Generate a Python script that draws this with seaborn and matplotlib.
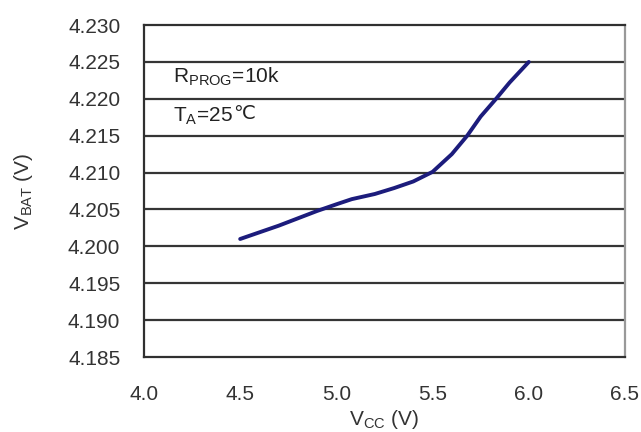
import pandas as pd
import matplotlib.pyplot as plt
import seaborn as sns

# V_CC (V) vs V_BAT (V)
vcc = [4.5, 4.7, 4.9, 5.0, 5.08, 5.2, 5.3, 5.4, 5.5, 5.6, 5.68, 5.75, 5.83, 5.9, 6.0]
vbat = [4.2010, 4.2028, 4.2048, 4.2057, 4.2064, 4.2071, 4.2079, 4.2088, 4.2101,
        4.2125, 4.2150, 4.2176, 4.2200, 4.2222, 4.2250]
x_ticks = [4.0, 4.5, 5.0, 5.5, 6.0, 6.5]
y_ticks = [4.185, 4.190, 4.195, 4.200, 4.205, 4.210, 4.215, 4.220, 4.225, 4.230]

sns.set_theme(style="white")
plt.rcParams['font.family'] = ['Liberation Sans', 'DejaVu Sans']
plt.rcParams['mathtext.fontset'] = 'custom'
plt.rcParams['mathtext.rm'] = 'Liberation Sans'

df = pd.DataFrame({'vcc': vcc, 'vbat': vbat})

fig = plt.figure(figsize=(6.41, 4.32), dpi=100)
ax = fig.add_axes([0.2246, 0.1736, 0.7504, 0.7684])

for y in y_ticks[1:-1]:
    ax.axhline(y, color='#353535', lw=1.6, zorder=1)

sns.lineplot(data=df, x='vcc', y='vbat', ax=ax, color='#1c1c7c', lw=2.8, zorder=3)

ax.set_xlim(4.0, 6.5)
ax.set_ylim(4.185, 4.230)
ax.set_xticks(x_ticks)
ax.set_xticklabels([f'{v:.1f}' for v in x_ticks])
ax.set_yticks(y_ticks)
ax.set_yticklabels([f'{v:.3f}' for v in y_ticks])
ax.tick_params(axis='x', direction='in', length=5, width=1.2, color='#303030',
               labelsize=15, labelcolor='#333333', pad=20)
ax.tick_params(axis='y', length=0, labelsize=15, labelcolor='#333333', pad=17)

for side in ['left', 'bottom', 'top']:
    ax.spines[side].set_color('#303030')
    ax.spines[side].set_linewidth(1.6)
ax.spines['right'].set_color('#999999')
ax.spines['right'].set_linewidth(1.6)

ax.set_xlabel(r'V$_{\mathrm{CC}}$ (V)', fontsize=15, color='#333333', labelpad=3)
ax.set_ylabel(r'V$_{\mathrm{BAT}}$ (V)', fontsize=15, color='#333333', labelpad=24)

ax.text(4.15, 4.2230, r'R$_{\mathrm{PROG}}$=10k', fontsize=15, color='#222222', va='center')
t = ax.text(4.15, 4.2177, r'T$_{\mathrm{A}}$=25', fontsize=15, color='#222222', va='center')
ax.annotate('℃', xy=(1.0, 0.62), xycoords=t, fontsize=14, color='#222222',
            family='DejaVu Sans', ha='left', va='center')

fig.savefig('out.png', dpi=100)
